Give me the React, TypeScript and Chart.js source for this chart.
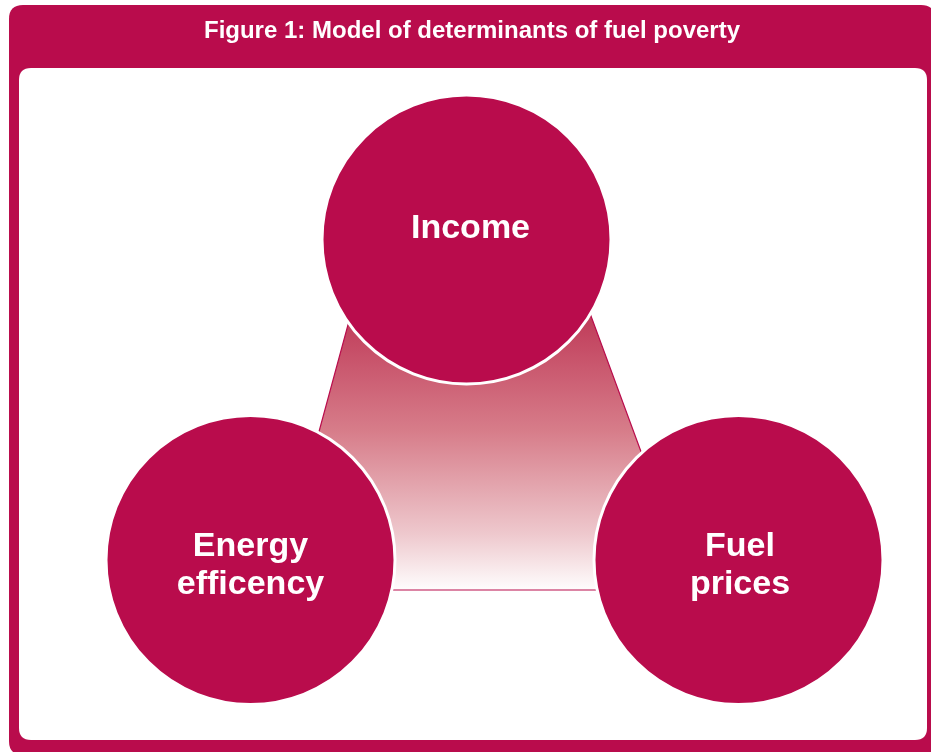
import React, { useEffect, useRef } from "react";
import { Chart, registerables } from "chart.js";

Chart.register(...registerables);

// Diagram content
const titleText = "Figure 1: Model of determinants of fuel poverty";
const circleLabels: string[][] = [["Income"], ["Energy", "efficency"], ["Fuel", "prices"]];
const circleX = [466.5, 250.5, 738.5];
const circleY = [239.5, 560, 560];
const circleR = [144.5, 144.5, 144.5];
// connecting trapezoid (data coordinates, same space as the circles)
const trapX = [371, 563, 692, 276];
const trapY = [240, 240, 590, 590];

const MAGENTA = "rgb(185,12,76)";
const W = 931;
const H = 752;

function roundRect(ctx: CanvasRenderingContext2D, x: number, y: number, w: number, h: number, r: number) {
  ctx.beginPath();
  ctx.moveTo(x + r, y);
  ctx.lineTo(x + w - r, y);
  ctx.quadraticCurveTo(x + w, y, x + w, y + r);
  ctx.lineTo(x + w, y + h - r);
  ctx.quadraticCurveTo(x + w, y + h, x + w - r, y + h);
  ctx.lineTo(x + r, y + h);
  ctx.quadraticCurveTo(x, y + h, x, y + h - r);
  ctx.lineTo(x, y + r);
  ctx.quadraticCurveTo(x, y, x + r, y);
  ctx.closePath();
}

const framePlugin = {
  id: "frame",
  beforeDraw(chart: any) {
    const ctx: CanvasRenderingContext2D = chart.ctx;
    ctx.save();
    ctx.fillStyle = "#ffffff";
    ctx.fillRect(0, 0, W, H);
    ctx.fillStyle = MAGENTA;
    roundRect(ctx, 9, 5, 926, 750, 14);
    ctx.fill();
    ctx.fillStyle = "#ffffff";
    roundRect(ctx, 19, 68, 908, 672, 12);
    ctx.fill();
    ctx.fillStyle = "#ffffff";
    ctx.font = "bold 24px 'Liberation Sans', Arial, sans-serif";
    ctx.textAlign = "center";
    ctx.textBaseline = "alphabetic";
    ctx.fillText(titleText, 472, 38);
    ctx.restore();
  },
  beforeDatasetsDraw(chart: any) {
    const ctx: CanvasRenderingContext2D = chart.ctx;
    const xs = chart.scales.x;
    const ys = chart.scales.y;
    ctx.save();
    const g = ctx.createLinearGradient(0, ys.getPixelForValue(300), 0, ys.getPixelForValue(592));
    g.addColorStop(0, "rgb(188,50,82)");
    g.addColorStop(0.45, "rgb(215,125,138)");
    g.addColorStop(0.8, "rgb(238,200,205)");
    g.addColorStop(1, "rgb(255,255,255)");
    ctx.beginPath();
    trapX.forEach((x, i) => {
      const px = xs.getPixelForValue(x);
      const py = ys.getPixelForValue(trapY[i]);
      if (i === 0) ctx.moveTo(px, py);
      else ctx.lineTo(px, py);
    });
    ctx.closePath();
    ctx.fillStyle = g;
    ctx.fill();
    ctx.strokeStyle = MAGENTA;
    ctx.lineWidth = 1.2;
    ctx.stroke();
    ctx.restore();
  },
  afterDatasetsDraw(chart: any) {
    const ctx: CanvasRenderingContext2D = chart.ctx;
    const xs = chart.scales.x;
    const ys = chart.scales.y;
    ctx.save();
    ctx.fillStyle = "#ffffff";
    ctx.font = "bold 34px 'Liberation Sans', Arial, sans-serif";
    ctx.textAlign = "center";
    ctx.textBaseline = "alphabetic";
    circleLabels.forEach((lines, i) => {
      const cx = xs.getPixelForValue(circleX[i]) + (i === 0 ? 4 : i === 2 ? 1.5 : 0);
      const cy = ys.getPixelForValue(circleY[i]);
      const lh = 38;
      const firstBaseline = lines.length === 1 ? cy - 2 : cy - 4;
      lines.forEach((t, j) => {
        ctx.fillText(t, cx, firstBaseline + j * lh);
      });
    });
    ctx.restore();
  },
};

export default function App() {
  const ref = useRef<HTMLCanvasElement | null>(null);
  useEffect(() => {
    if (!ref.current) return;
    const chart = new Chart(ref.current, {
      type: "bubble",
      data: {
        datasets: [
          {
            label: "Determinants",
            data: circleX.map((x, i) => ({ x, y: circleY[i], r: circleR[i] })),
            backgroundColor: MAGENTA,
            borderColor: "#ffffff",
            borderWidth: 3,
            hoverRadius: 0,
            clip: false,
          } as any,
        ],
      },
      options: {
        animation: false,
        responsive: false,
        events: [],
        layout: { padding: 0, autoPadding: false },
        plugins: {
          legend: { display: false },
          tooltip: { enabled: false },
          title: { display: false },
        },
        scales: {
          x: { type: "linear", min: 0, max: W, display: false },
          y: { type: "linear", min: 0, max: H, reverse: true, display: false },
        },
      } as any,
      plugins: [framePlugin],
    });
    return () => chart.destroy();
  }, []);
  return (
    <div style={{ position: "absolute", left: 0, top: 0, width: W, height: H }}>
      <canvas ref={ref} width={W} height={H} style={{ display: "block", width: W, height: H }} />
    </div>
  );
}
